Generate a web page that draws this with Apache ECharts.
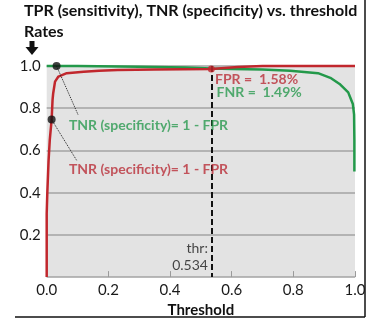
<!DOCTYPE html>
<html><head><meta charset="utf-8">
<script src="https://cdn.jsdelivr.net/npm/echarts@6/dist/echarts.min.js"></script>
<style>html,body{margin:0;padding:0;background:#fff}#c{width:377px;height:323px}</style>
</head><body><div id="c"></div>
<script>
// ---- data ----
const xTicks = [0, 0.2, 0.4, 0.6, 0.8, 1.0];
const yTicks = [0.2, 0.4, 0.6, 0.8, 1.0];
const redCurve = [[0,0],[0,0.3],[0.002,0.4],[0.006,0.55],[0.01,0.65],[0.016,0.746],[0.019,0.84],[0.021,0.87],[0.027,0.926],[0.038,0.95],[0.065,0.966],[0.12,0.973],[0.17,0.978],[0.23,0.981],[0.35,0.983],[0.534,0.986],[0.62,0.995],[0.7,1.0],[1.0,1.0]];
const greenCurve = [[0,1.0],[0.1,1.0],[0.3,0.997],[0.45,0.993],[0.534,0.988],[0.6,0.986],[0.7,0.983],[0.79,0.978],[0.88,0.966],[0.92,0.944],[0.95,0.915],[0.978,0.875],[0.993,0.82],[0.997,0.77],[0.998,0.65],[0.998,0.5]];
const threshold = 0.534;
const thresholdPoint = [[0.534, 0.986]];
const calloutDots = [[0.032, 1.0], [0.016, 0.746]];
const calloutEnds = [[0.1015, 0.77], [0.098, 0.551]];
const greenLabel = 'TNR (specificity)= 1 - FPR';
const redLabel = 'TNR (specificity)= 1 - FPR';
const fprText = 'FPR =  1.58%';
const fnrText = 'FNR =  1.49%';
const thrText = ['thr:', '0.534'];

const FONT = 'Lato';
const RED = '#c1272d';
const GREEN = '#23994a';
const RED_T = '#b92e38';
const GREEN_T = '#2a9a50';

const chart = echarts.init(document.getElementById('c'), null, {renderer:'canvas'});

function textPoint(name, coord, text, color, pos, weight) {
  return {
    name: name, type: 'scatter', data: [coord], symbolSize: 0, silent: true, z: 5,
    label: {show: true, position: pos, distance: 0, formatter: text,
      color: color, fontFamily: FONT, fontSize: 14, fontWeight: weight}
  };
}

chart.setOption({
  animation: false,
  title: [
    {text: 'TPR (sensitivity), TNR (specificity) vs. threshold', left: 19, top: -2,
     textStyle: {fontFamily: FONT, fontSize: 16, fontWeight: 'bold', color: '#111'}},
    {text: 'Rates', left: 19, top: 19,
     textStyle: {fontFamily: FONT, fontSize: 16, fontWeight: 'bold', color: '#111'}}
  ],
  grid: {left: 46.7, right: 22, top: 66, bottom: 44, show: true, backgroundColor: '#e3e3e3', borderWidth: 0},
  xAxis: {
    type: 'value', min: 0, max: 1, interval: 0.2,
    name: 'Threshold', nameLocation: 'middle', nameGap: 23,
    nameTextStyle: {fontFamily: FONT, fontSize: 15, fontWeight: 'bold', color: '#111'},
    axisLine: {show: false},
    axisTick: {show: true, inside: true, length: 6, lineStyle: {color: '#9a9a9a', width: 1}},
    splitLine: {show: false},
    axisLabel: {fontFamily: FONT, fontSize: 15, color: '#1a1a1a', margin: 6,
      formatter: v => v.toFixed(1)}
  },
  yAxis: {
    type: 'value', min: 0, max: 1, interval: 0.2,
    axisLine: {show: false}, axisTick: {show: false},
    splitLine: {show: true, lineStyle: {color: '#a3a3a3', width: 1.5}},
    axisLabel: {fontFamily: FONT, fontSize: 15, color: '#1a1a1a', margin: 6,
      formatter: v => (v === 0 ? '' : v.toFixed(1))}
  },
  graphic: [
    {type: 'polygon', shape: {points: [[29.5,41],[34.5,41],[34.5,47],[38.5,47],[32,55],[25.5,47],[29.5,47]]},
     style: {fill: '#111'}},
    {type: 'line', shape: {x1: 365, y1: 0, x2: 365, y2: 317}, style: {stroke: '#111', lineWidth: 1.5}},
    {type: 'line', shape: {x1: 15, y1: 317, x2: 365, y2: 317}, style: {stroke: '#111', lineWidth: 1.5}}
  ],
  series: [
    {name: 'green', type: 'line', data: greenCurve, showSymbol: false, clip: false,
     lineStyle: {color: GREEN, width: 2.5}, z: 3,
     markLine: {silent: true, symbol: 'none', label: {show: false},
       lineStyle: {color: '#111', type: [6, 3], width: 2},
       data: [[{coord: [threshold, 1.0]}, {coord: [threshold, 0]}]]}},
    {name: 'red', type: 'line', data: redCurve, showSymbol: false, clip: false,
     lineStyle: {color: RED, width: 2.5}, z: 4,
     markLine: {silent: true, symbol: 'none', label: {show: false},
       lineStyle: {color: '#222', type: 'dotted', width: 1},
       data: [[{coord: calloutDots[0]}, {coord: calloutEnds[0]}],
              [{coord: calloutDots[1]}, {coord: calloutEnds[1]}]]}},
    {name: 'thrPoint', type: 'scatter', data: thresholdPoint, symbolSize: 7, z: 6,
     itemStyle: {color: RED}},
    {name: 'dots', type: 'scatter', data: calloutDots, symbolSize: 8, z: 6,
     itemStyle: {color: '#111'}},
    textPoint('gl', [0.072, 0.718], greenLabel, GREEN_T, 'right', 'bold'),
    textPoint('rl', [0.072, 0.508], redLabel, RED_T, 'right', 'bold'),
    textPoint('fpr', [0.546, 0.934], fprText, RED_T, 'right', 'bold'),
    textPoint('fnr', [0.551, 0.873], fnrText, GREEN_T, 'right', 'bold'),
    textPoint('thr1', [0.523, 0.136], thrText[0], '#1a1a1a', 'left', 'normal'),
    textPoint('thr2', [0.523, 0.056], thrText[1], '#1a1a1a', 'left', 'normal')
  ]
});
</script></body></html>
